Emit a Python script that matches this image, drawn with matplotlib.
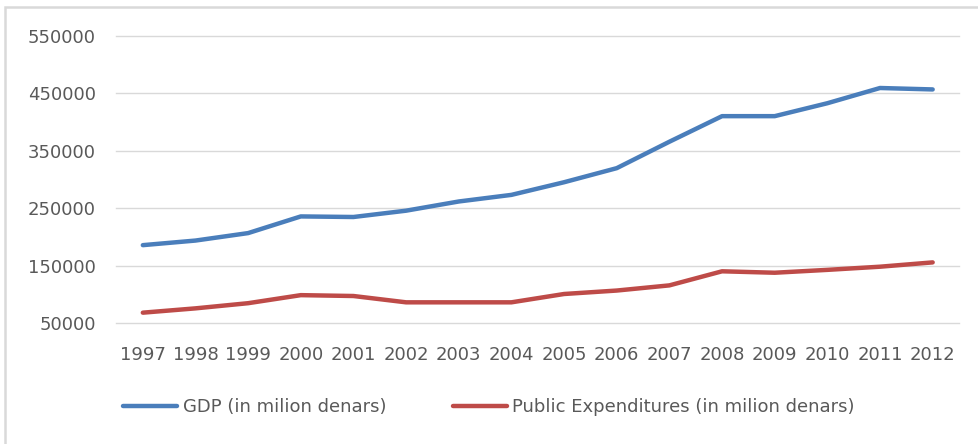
import matplotlib
matplotlib.use("Agg")
import matplotlib.pyplot as plt
from matplotlib.patches import Rectangle

# ------------------------------------------------------------------------------
# data (million denars)
# ------------------------------------------------------------------------------
years = ["1997", "1998", "1999", "2000", "2001", "2002", "2003", "2004",
         "2005", "2006", "2007", "2008", "2009", "2010", "2011", "2012"]
gdp = [186000, 194000, 207000, 236000, 235000, 246000, 262000, 273500,
       295500, 320000, 366000, 410500, 410500, 433000, 459500, 457000]
public_exp = [68500, 76000, 85000, 99000, 97500, 86500, 86500, 86500,
              101000, 107000, 116000, 140500, 138000, 143000, 148500, 156000]
y_ticks = [50000, 150000, 250000, 350000, 450000, 550000]

BLUE = "#4a7ebb"
RED = "#be4b48"
GRID = "#d9d9d9"
TEXT = "#595959"
FS = 13

plt.rcParams["font.family"] = ["DejaVu Sans"]

W, H = 979, 444
fig = plt.figure(figsize=(W / 100, H / 100), dpi=100)

# chart area border (runs off the right and bottom edges)
fig.patches.append(Rectangle((5 / W, -0.1), 1.2, (H - 7) / H + 0.1,
                             transform=fig.transFigure, fill=False,
                             ec=GRID, lw=1.8))

left, right, top, bottom = 116.5, 959, 36, 323.3
ax = fig.add_axes([left / W, 1 - bottom / H, (right - left) / W, (bottom - top) / H])

x = list(range(len(years)))
l1, = ax.plot(x, gdp, color=BLUE, lw=3.2, solid_capstyle="round",
              solid_joinstyle="round", label="GDP (in milion denars)")
l2, = ax.plot(x, public_exp, color=RED, lw=3.2, solid_capstyle="round",
              solid_joinstyle="round", label="Public Expenditures (in milion denars)")

ax.set_xlim(-0.5, len(years) - 0.5)
ax.set_ylim(y_ticks[0], y_ticks[-1])
ax.set_yticks(y_ticks)
ax.set_yticklabels([str(v) for v in y_ticks])
ax.set_xticks(x)
ax.set_xticklabels(years)

ax.grid(axis="y", color=GRID, lw=1.0)
for gl in ax.get_ygridlines():
    gl.set_clip_on(False)
ax.set_axisbelow(True)
for s in ax.spines.values():
    s.set_visible(False)
ax.tick_params(axis="both", length=0, labelsize=FS, labelcolor=TEXT)
ax.tick_params(axis="y", pad=15)
ax.tick_params(axis="x", pad=16)

leg = fig.legend(handles=[l1, l2], loc="center left",
                 bbox_to_anchor=(123 / W, 1 - 407 / H), ncol=2, frameon=False,
                 fontsize=FS, handlelength=3.0, handletextpad=0.3,
                 columnspacing=3.7, borderpad=0, borderaxespad=0)
for t in leg.get_texts():
    t.set_color(TEXT)

fig.savefig("out.png", dpi=100, facecolor="white")
